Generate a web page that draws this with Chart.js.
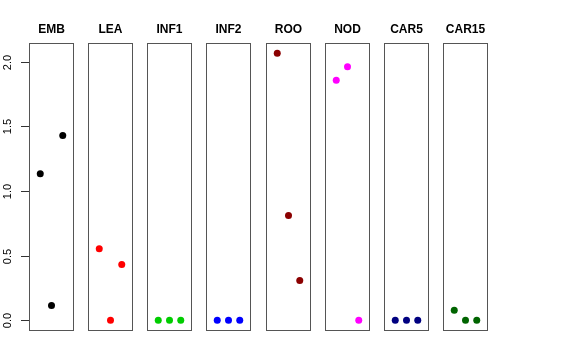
<!DOCTYPE html>
<html>
<head>
<meta charset="utf-8">
<script src="https://cdn.jsdelivr.net/npm/chart.js@4"></script>
<style>
  html, body { margin: 0; padding: 0; background: #fff; }
  #wrap { position: relative; width: 576px; height: 360px; overflow: hidden; }
  #wrap canvas { position: absolute; top: 0; }
</style>
</head>
<body>
<div id="wrap"></div>
<script>
// panel titles, one panel per tissue
var tissues = ["EMB", "LEA", "INF1", "INF2", "ROO", "NOD", "CAR5", "CAR15"];
// three replicate values per panel
var EMB = [1.135, 0.115, 1.43];
var LEA = [0.553, 0.0, 0.432];
var INF1 = [0.0, 0.0, 0.0];
var INF2 = [0.0, 0.0, 0.0];
var ROO = [2.066, 0.812, 0.308];
var NOD = [1.857, 1.962, 0.0];
var CAR5 = [0.0, 0.0, 0.0];
var CAR15 = [0.078, 0.0, 0.0];
var values = [EMB, LEA, INF1, INF2, ROO, NOD, CAR5, CAR15];
var colours = ["#000000", "#ff0000", "#00cd00", "#0000ff", "#8b0000", "#ff00ff", "#000080", "#006400"];
var yTicks = [0, 0.5, 1, 1.5, 2];

var yMin = -0.0825, yMax = 2.146;

// draws the panel frame and (for the first panel) the left axis
var framePlugin = {
  id: "frame",
  beforeDatasetsDraw: function (chart) {
    var a = chart.chartArea;
    var ctx = chart.ctx;
    ctx.save();
    ctx.strokeStyle = "#555555";
    ctx.lineWidth = 1;
    ctx.strokeRect(Math.round(a.left) + 0.5, Math.round(a.top) + 0.5,
      Math.round(a.right - a.left) - 1, Math.round(a.bottom - a.top) - 1);
    ctx.restore();
  },
  afterDraw: function (chart, args, opts) {
    if (!opts.axis) return;
    var a = chart.chartArea;
    var y = chart.scales.y;
    var ctx = chart.ctx;
    ctx.save();
    ctx.strokeStyle = "#333333";
    ctx.fillStyle = "#000";
    ctx.lineWidth = 1;
    ctx.font = "11px 'Liberation Sans', Arial, sans-serif";
    ctx.textAlign = "center";
    ctx.textBaseline = "middle";
    yTicks.forEach(function (t) {
      var py = Math.round(y.getPixelForValue(t)) + 0.5;
      ctx.beginPath();
      ctx.moveTo(a.left - 8, py);
      ctx.lineTo(a.left, py);
      ctx.stroke();
      ctx.save();
      ctx.translate(a.left - 21, py);
      ctx.rotate(-Math.PI / 2);
      ctx.fillText(t.toFixed(1), 0, 0);
      ctx.restore();
    });
    ctx.restore();
  }
};

var wrap = document.getElementById("wrap");
tissues.forEach(function (name, i) {
  var boxLeft = Math.round(29 + i * 59.15);
  var canvasLeft = i === 0 ? 0 : boxLeft - 10;
  var canvas = document.createElement("canvas");
  // chart.js keeps at least 4px on the right for the points
  canvas.width = boxLeft + 45 + 4 - canvasLeft;
  canvas.height = 360;
  canvas.style.left = canvasLeft + "px";
  wrap.appendChild(canvas);

  var pts = values[i].map(function (v, k) { return { x: k + 1, y: v }; });

  new Chart(canvas, {
    type: "scatter",
    data: {
      datasets: [{
        data: pts,
        backgroundColor: colours[i],
        borderColor: colours[i],
        borderWidth: 0,
        pointRadius: 3.5,
        pointHoverRadius: 3.5,
        clip: false
      }]
    },
    options: {
      responsive: false,
      animation: false,
      layout: { padding: { left: boxLeft - canvasLeft, right: 4, top: 0, bottom: 29 } },
      scales: {
        x: { display: false, min: 0, max: 4 },
        y: { display: false, min: yMin, max: yMax }
      },
      plugins: {
        legend: { display: false },
        tooltip: { enabled: false },
        title: {
          display: true,
          text: name,
          color: "#000",
          font: { family: "'Liberation Sans', Arial, sans-serif", size: 12, weight: "bold", lineHeight: 1.2 },
          padding: { top: 22.5, bottom: 6.1 }
        },
        frame: { axis: i === 0 }
      }
    },
    plugins: [framePlugin]
  });
});
</script>
</body>
</html>
